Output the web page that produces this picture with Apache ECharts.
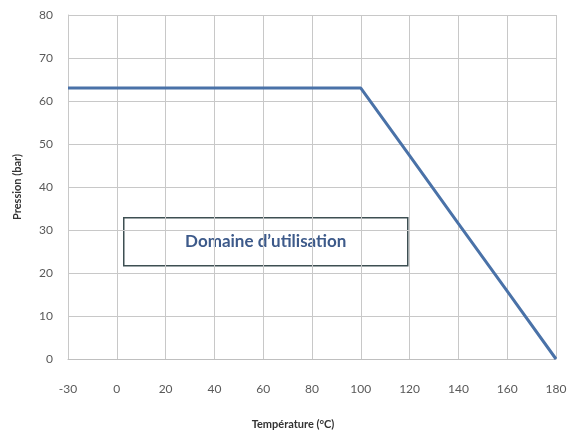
<!DOCTYPE html>
<html><head><meta charset="utf-8">
<script src="https://cdn.jsdelivr.net/npm/echarts@6/dist/echarts.min.js"></script>
<style>html,body{margin:0;padding:0;background:#fff}#c{width:574px;height:435px}</style>
</head><body><div id="c"></div>
<script>
var temperatures = ['-30','0','20','40','60','80','100','120','140','160','180'];
var pressions = [63, 63, 63, 63, 63, 63, 63, 47.3, 31.5, 15.8, 0];
var yTicks = [0, 80, 10];
var xName = 'Température (°C)';
var yName = 'Pression (bar)';
var zoneLabel = 'Domaine d\u2019utilisation';

var chart = echarts.init(document.getElementById('c'));
var font = 'Lato, "Liberation Sans", sans-serif';
chart.setOption({
  animation: false,
  grid: {left: 68, right: 18, top: 15, bottom: 75},
  xAxis: {
    type: 'category', data: temperatures, boundaryGap: false,
    name: xName, nameLocation: 'middle', nameGap: 60,
    nameTextStyle: {fontFamily: font, fontSize: 11, color: '#333', fontWeight: 'bold', padding: [0, 38, 0, 0]},
    axisLine: {lineStyle: {color: '#bfbfbf'}},
    axisTick: {show: false},
    axisLabel: {fontFamily: font, fontSize: 12, color: '#595959', margin: 24},
    splitLine: {show: true, lineStyle: {color: '#c8c8c8'}}
  },
  yAxis: {
    type: 'value', min: yTicks[0], max: yTicks[1], interval: yTicks[2],
    name: yName, nameLocation: 'middle', nameGap: 45, nameRotate: 90,
    nameTextStyle: {fontFamily: font, fontSize: 11, color: '#333', fontWeight: 'bold'},
    axisLine: {show: true, lineStyle: {color: '#c8c8c8'}},
    axisTick: {show: false},
    axisLabel: {fontFamily: font, fontSize: 12, color: '#595959', margin: 15},
    splitLine: {show: true, lineStyle: {color: '#c8c8c8'}}
  },
  series: [{
    type: 'line', data: pressions, showSymbol: false,
    lineStyle: {color: '#4a72a8', width: 3},
    z: 5
  }],
  graphic: [{
    type: 'group', left: 123, top: 217, z: 10,
    children: [
      {type: 'rect', shape: {x: 0, y: 0, width: 284, height: 48},
       style: {fill: '#fff', stroke: '#3d4f52', lineWidth: 1.5}},
      {type: 'text', x: 142, y: 24,
       style: {text: zoneLabel, fill: '#3d5a8a', font: 'bold 17px ' + font, textAlign: 'center', textVerticalAlign: 'middle'}}
    ]
  }]
});
</script></body></html>
